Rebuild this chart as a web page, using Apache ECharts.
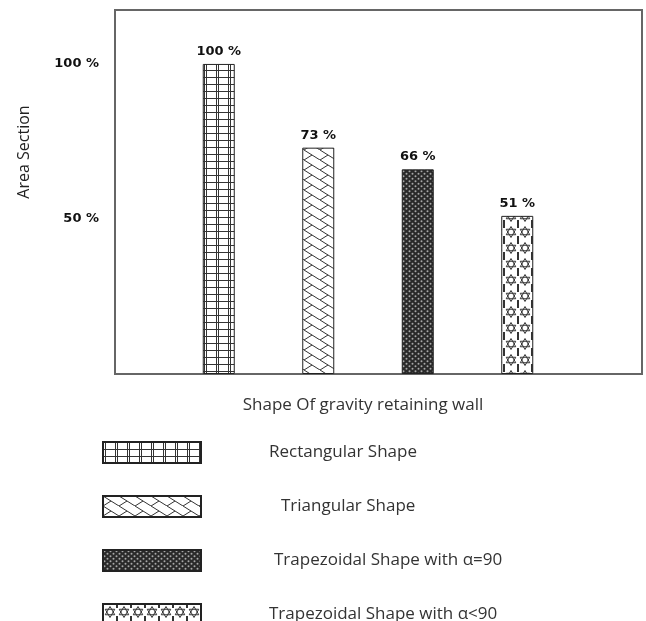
<!DOCTYPE html>
<html>
<head>
<meta charset="utf-8">
<script src="https://cdn.jsdelivr.net/npm/echarts@6/dist/echarts.min.js"></script>
<style>
html,body{margin:0;padding:0;background:#fff;}
#chart{width:646px;height:621px;}
</style>
</head>
<body>
<div id="chart"></div>
<script>
// ---- data ----
var categories = ['Rectangular Shape', 'Triangular Shape', 'Trapezoidal Shape with \u03b1=90', 'Trapezoidal Shape with \u03b1<90'];
var values = [100, 73, 66, 51];
var yTickLabels = ['50 %', '100 %'];
var yTickValues = [50, 100];
var xAxisTitle = 'Shape Of gravity retaining wall';
var yAxisTitle = 'Area Section';

// ---- pattern fills ----
function makeCanvas(w, h) {
  var c = document.createElement('canvas');
  c.width = w; c.height = h;
  return c;
}
function gridPattern() {
  var c = makeCanvas(12, 7), g = c.getContext('2d');
  g.fillStyle = '#fff'; g.fillRect(0, 0, 12, 7);
  g.strokeStyle = '#333'; g.lineWidth = 1;
  g.beginPath();
  g.moveTo(0, 0.5); g.lineTo(12, 0.5);
  g.moveTo(0.5, 0); g.lineTo(0.5, 7);
  g.moveTo(2.5, 0); g.lineTo(2.5, 7);
  g.stroke();
  return c;
}
function zigzagPattern() {
  var w = 16, h = 10;
  var c = makeCanvas(w, h), g = c.getContext('2d');
  g.fillStyle = '#fff'; g.fillRect(0, 0, w, h);
  g.strokeStyle = '#333'; g.lineWidth = 1;
  g.beginPath();
  g.moveTo(-2, -2 * h / w); g.lineTo(w + 2, h + 2 * h / w);
  g.moveTo(0, h); g.lineTo(w / 2, h / 2);
  g.stroke();
  return c;
}
function dotPattern() {
  var c = makeCanvas(6, 5), g = c.getContext('2d');
  g.fillStyle = '#2a2a2a'; g.fillRect(0, 0, 6, 5);
  g.fillStyle = '#a8a8a8';
  g.beginPath(); g.arc(1.5, 1.25, 1.0, 0, Math.PI * 2); g.fill();
  g.beginPath(); g.arc(4.5, 3.75, 1.0, 0, Math.PI * 2); g.fill();
  return c;
}
function starPattern() {
  var c = makeCanvas(14, 16), g = c.getContext('2d');
  g.fillStyle = '#fff'; g.fillRect(0, 0, 14, 16);
  g.strokeStyle = '#333'; g.lineWidth = 1;
  var cx = 7, cy = 8, r = 5.5;
  function tri(offset) {
    g.beginPath();
    for (var i = 0; i < 3; i++) {
      var a = offset + i * Math.PI * 2 / 3;
      var x = cx + r * Math.cos(a), y = cy + r * Math.sin(a);
      if (i === 0) g.moveTo(x, y); else g.lineTo(x, y);
    }
    g.closePath(); g.stroke();
  }
  tri(-Math.PI / 2);
  tri(Math.PI / 2);
  g.beginPath();
  g.moveTo(0.5, 0); g.lineTo(0.5, 4);
  g.moveTo(0.5, 12); g.lineTo(0.5, 16);
  g.moveTo(13.5, 0); g.lineTo(13.5, 4);
  g.moveTo(13.5, 12); g.lineTo(13.5, 16);
  g.stroke();
  return c;
}
var fills = [gridPattern(), zigzagPattern(), dotPattern(), starPattern()];
var legendTextPad = [63, 75, 68, 63];

var yMax = 117.4;

var series = categories.map(function (name, i) {
  return {
    name: name,
    type: 'bar',
    stack: 'all',
    xAxisIndex: 1,
    yAxisIndex: 1,
    barWidth: 32,
    data: categories.map(function (c, j) { return j === i ? values[i] : '-'; }),
    itemStyle: {
      color: { image: fills[i], repeat: 'repeat' },
      borderColor: '#222',
      borderWidth: 1
    },
    label: {
      show: true,
      position: 'top',
      distance: 6,
      formatter: '{c} %',
      fontFamily: 'DejaVu Sans',
      fontWeight: 'bold',
      fontSize: 13,
      color: '#111'
    }
  };
});

var chart = echarts.init(document.getElementById('chart'));
chart.setOption({
  animation: false,
  backgroundColor: '#fff',
  grid: [
    { left: 115, right: 4, top: 10, bottom: 247, show: true, borderColor: '#666', borderWidth: 2, backgroundColor: 'transparent' },
    { left: 169, right: 79, top: 10, bottom: 247 }
  ],
  xAxis: [
    { gridIndex: 0, type: 'category', data: categories, show: false },
    { gridIndex: 1, type: 'category', data: categories, show: false }
  ],
  yAxis: [
    {
      gridIndex: 0, type: 'value', min: 0, max: yMax, interval: 50,
      axisLine: { show: false }, axisTick: { show: false }, splitLine: { show: false },
      axisLabel: {
        margin: 16,
        fontFamily: 'DejaVu Sans', fontWeight: 'bold', fontSize: 13, color: '#111',
        formatter: function (v) {
          var k = yTickValues.indexOf(v);
          return k >= 0 ? yTickLabels[k] : '';
        }
      }
    },
    { gridIndex: 1, type: 'value', min: 0, max: yMax, show: false, splitLine: { show: false } }
  ],
  legend: {
    orient: 'vertical',
    left: 102,
    top: 441,
    height: 200,
    padding: 0,
    itemWidth: 98,
    itemHeight: 21,
    itemGap: 31,
    icon: 'rect',
    selectedMode: false,
    data: categories.map(function (c, i) {
      return { name: c, textStyle: { padding: [0, 0, 0, legendTextPad[i]] } };
    }),
    textStyle: { fontFamily: 'Open Sans', fontSize: 17, lineHeight: 18, color: '#333' }
  },
  graphic: [
    {
      type: 'text',
      x: 24, y: 152,
      rotation: Math.PI / 2,
      style: { text: yAxisTitle, fontFamily: 'Open Sans', fontSize: 16, fill: '#222', align: 'center', verticalAlign: 'middle' }
    },
    {
      type: 'text',
      x: 363, y: 405,
      style: { text: xAxisTitle, fontFamily: 'Open Sans', fontSize: 17, fill: '#333', align: 'center', verticalAlign: 'middle' }
    }
  ],
  series: series
});
</script>
</body>
</html>
